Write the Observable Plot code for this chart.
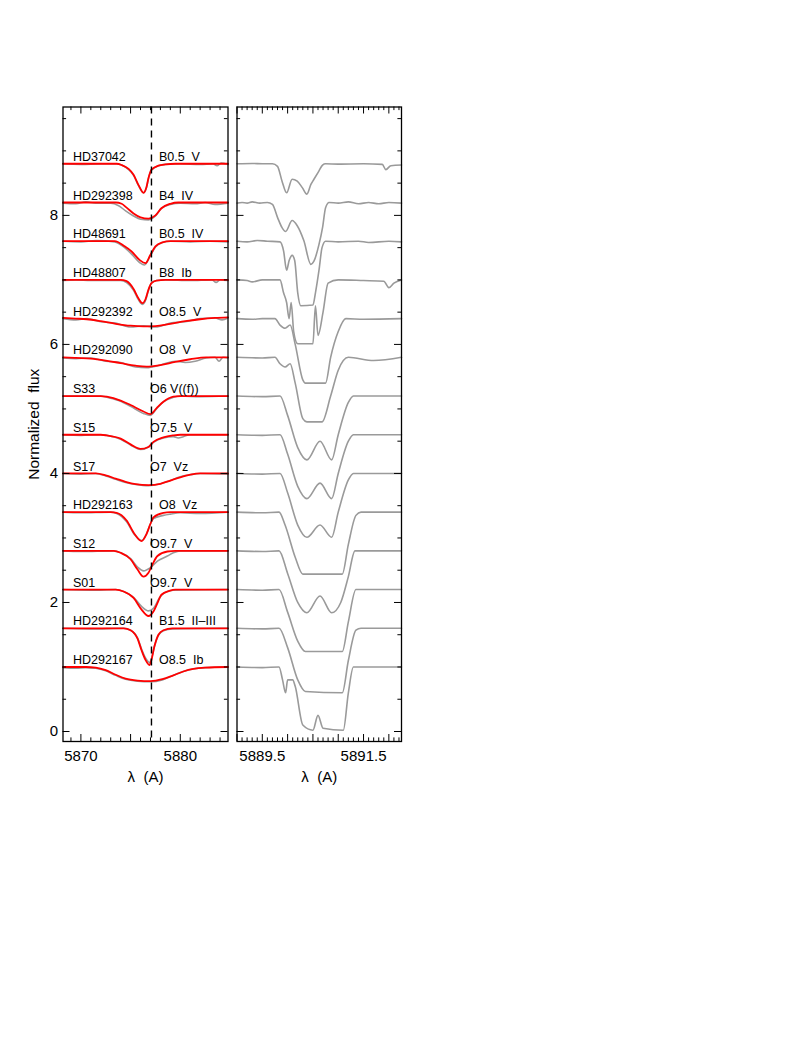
<!DOCTYPE html>
<html><head><meta charset="utf-8">
<script src="https://cdn.jsdelivr.net/npm/d3@7"></script>
<script src="https://cdn.jsdelivr.net/npm/@observablehq/plot@0.6"></script>
<style>
body{margin:0;background:#fff;}
#wrap{position:relative;width:786px;height:1063px;background:#fff;}
#wrap svg{position:absolute;top:0;overflow:visible;}
#wrap text{white-space:pre;}
</style></head><body><div id="wrap"></div>
<script>
// ---------------- data ----------------
const stars = ["HD37042","HD292398","HD48691","HD48807","HD292392","HD292090","S33","S15","S17","HD292163","S12","S01","HD292164","HD292167"];
const spTypes = ["B0.5  V","B4  IV","B0.5  IV","B8  Ib","O8.5  V","O8  V","O6 V((f))","O7.5  V","O7  Vz","O8  Vz","O9.7  V","O9.7  V","B1.5  II\u2013III","O8.5  Ib"];
const offsets = [8.8,8.2,7.6,7.0,6.4,5.8,5.2,4.6,4.0,3.4,2.8,2.2,1.6,1.0];
const yTickLabels = [0,2,4,6,8];
const leftTickLabels = [5870,5880];
const rightTickLabels = [5889.5,5891.5];
const restWavelength = 5877.1;

// He I 5876 region: model (red) depths below continuum, [wavelength, depth]
const leftModel = [
 [[5868.2,0],[5873.6,0],[5874.1,0.02],[5874.8,0.08],[5875.3,0.17],[5875.8,0.33],[5876.3,0.45],[5876.6,0.36],[5876.8,0.22],[5877.1,0.09],[5877.8,0.03],[5878.5,0.01],[5879.5,0],[5884.8,0]],
 [[5868.2,0],[5873.5,0],[5874.1,0.02],[5874.6,0.08],[5875.3,0.17],[5876.0,0.23],[5876.8,0.25],[5877.5,0.2],[5878.1,0.09],[5879.0,0.02],[5879.8,0],[5884.8,0]],
 [[5868.2,0],[5873.4,0],[5874.4,0.08],[5875.1,0.16],[5875.9,0.29],[5876.5,0.34],[5877.0,0.21],[5877.5,0.08],[5878.2,0.02],[5879,0],[5884.8,0]],
 [[5868.2,0],[5874.0,0],[5874.6,0.02],[5875.3,0.14],[5875.8,0.29],[5876.2,0.36],[5876.5,0.3],[5876.8,0.15],[5877.1,0.05],[5877.6,0.01],[5878.5,0],[5884.8,0]],
 [[5868.2,-0.01],[5869.5,0],[5870.6,0.01],[5872,0.04],[5873.5,0.08],[5875,0.11],[5876.3,0.12],[5877.5,0.115],[5879,0.08],[5880.5,0.04],[5882,0.01],[5883.5,-0.01],[5884.8,-0.02]],
 [[5868.2,0],[5869.5,0.01],[5871,0.02],[5872.5,0.05],[5874,0.09],[5875.5,0.13],[5876.6,0.145],[5878,0.12],[5879.5,0.07],[5881,0.03],[5882.6,0],[5884.8,0]],
 [[5868.2,0],[5872.0,0],[5872.6,0.01],[5874.0,0.07],[5875.0,0.14],[5876.3,0.24],[5877.0,0.28],[5877.6,0.19],[5878.3,0.09],[5879.3,0.01],[5880,0],[5884.8,0]],
 [[5868.2,0],[5872,0],[5872.6,0.01],[5874.0,0.06],[5875.0,0.15],[5876.0,0.22],[5876.8,0.19],[5877.3,0.11],[5878.3,0.04],[5879.3,0.01],[5880,0],[5884.8,0]],
 [[5868.2,0],[5871.5,0],[5872.5,0.03],[5873.5,0.08],[5874.5,0.13],[5875.5,0.165],[5876.8,0.18],[5878,0.16],[5879,0.11],[5880,0.06],[5881,0.02],[5882,0],[5884.8,0]],
 [[5868.2,0],[5873.0,0],[5873.6,0.01],[5874.6,0.13],[5875.4,0.34],[5876.1,0.45],[5876.6,0.34],[5877.0,0.18],[5877.3,0.08],[5878.3,0.01],[5879,0],[5884.8,0]],
 [[5868.2,0],[5873.3,0],[5874,0.03],[5875,0.13],[5875.7,0.29],[5876.3,0.4],[5876.8,0.34],[5877.2,0.21],[5877.7,0.08],[5878.7,0.01],[5879.5,0],[5884.8,0]],
 [[5868.2,0],[5873.5,0],[5874.3,0.03],[5875.3,0.13],[5876.1,0.31],[5876.8,0.41],[5877.3,0.34],[5877.7,0.21],[5878.1,0.08],[5878.9,0.02],[5879.5,0],[5884.8,0]],
 [[5868.2,0],[5874.3,0],[5875.0,0.03],[5875.7,0.16],[5876.1,0.34],[5876.5,0.49],[5876.9,0.57],[5877.1,0.49],[5877.4,0.28],[5877.8,0.10],[5878.3,0.03],[5879.2,0],[5884.8,0]],
 [[5868.2,0],[5870.5,0],[5871.5,0.01],[5872.5,0.05],[5873.5,0.12],[5874.5,0.18],[5875.7,0.21],[5877.0,0.22],[5878.2,0.19],[5879.3,0.13],[5880.3,0.07],[5881.3,0.03],[5882.5,0.01],[5884.8,0]]
];
// He I 5876 region: observed (grey) depths
const leftObs = [
 [[5868.2,0],[5870,0.01],[5872,0],[5873.6,0],[5874.1,0.02],[5874.8,0.09],[5875.3,0.18],[5875.8,0.34],[5876.3,0.45],[5876.6,0.37],[5876.8,0.23],[5877.1,0.1],[5877.8,0.03],[5878.5,0.01],[5880,0],[5882,0.01],[5883.3,0],[5883.7,0.03],[5884.1,-0.01],[5884.8,0.01]],
 [[5868.2,0.01],[5869.5,0.02],[5870.5,-0.01],[5871.5,0.01],[5873.0,0.01],[5873.8,0.05],[5874.5,0.13],[5875.3,0.21],[5876.0,0.26],[5876.8,0.27],[5877.5,0.21],[5878.1,0.09],[5879,0.03],[5880,0.01],[5881.5,0.02],[5882.5,0],[5883.5,0.03],[5884.8,0.01]],
 [[5868.2,0],[5870,0.01],[5871.5,-0.01],[5873.4,0.01],[5874.4,0.1],[5875.1,0.2],[5875.9,0.33],[5876.4,0.37],[5877.0,0.22],[5877.5,0.09],[5878.2,0.02],[5879,0],[5881,0.01],[5883,0],[5884.8,0.01]],
 [[5868.2,0.01],[5869.5,0],[5871,0.01],[5874.0,0.01],[5874.6,0.04],[5875.3,0.16],[5875.8,0.31],[5876.2,0.38],[5876.5,0.32],[5876.8,0.16],[5877.1,0.05],[5877.6,0.01],[5878.5,0],[5881,0.01],[5883.2,0],[5883.6,0.04],[5884,0],[5884.8,0.01]],
 [[5868.2,0],[5869.5,0.02],[5870.6,0],[5872,0.05],[5873.5,0.07],[5875,0.13],[5876.3,0.11],[5877.5,0.13],[5879,0.07],[5880.5,0.05],[5882,0],[5883.5,-0.01],[5884.2,0.02],[5884.8,-0.01]],
 [[5868.2,0.01],[5869.5,0.02],[5871,0.01],[5872.5,0.06],[5874,0.08],[5875.5,0.15],[5876.6,0.16],[5878,0.12],[5879.5,0.06],[5880.5,0.08],[5881.5,0.06],[5882.6,0.01],[5883.5,0],[5883.9,0.06],[5884.3,0],[5884.8,0.01]],
 [[5868.2,0],[5872.0,0],[5872.6,0.02],[5874.0,0.08],[5875.0,0.16],[5876.3,0.27],[5877.0,0.3],[5877.6,0.2],[5878.3,0.09],[5879.3,0.02],[5880,0],[5882,0.01],[5884.8,0]],
 [[5868.2,0],[5870,0.01],[5872,0],[5872.6,0.01],[5874.0,0.07],[5875.0,0.16],[5876.0,0.23],[5876.8,0.19],[5877.3,0.12],[5878.3,0.05],[5879.3,0.03],[5879.8,0.05],[5880.3,0.03],[5881,0],[5884.8,0]],
 [[5868.2,0],[5870,0.01],[5871.5,0],[5872.5,0.04],[5873.5,0.09],[5874.5,0.14],[5875.5,0.17],[5876.8,0.19],[5878,0.16],[5879,0.11],[5880,0.05],[5881,0.02],[5882,0],[5884.8,0.01]],
 [[5868.2,0],[5870,0.01],[5873.0,0],[5873.6,0.02],[5874.6,0.15],[5875.4,0.35],[5876.1,0.44],[5876.6,0.34],[5877.0,0.18],[5877.3,0.1],[5878.3,0.05],[5879,0.03],[5880,0.01],[5882,0.02],[5884.8,0]],
 [[5868.2,0],[5870,0.01],[5873.3,0],[5874,0.03],[5875,0.12],[5875.7,0.25],[5876.3,0.31],[5877,0.26],[5877.7,0.16],[5878.7,0.08],[5879.3,0.03],[5880,0],[5884.8,0]],
 [[5868.2,0],[5871,0.01],[5873.5,0],[5874.3,0.03],[5875.3,0.12],[5876.1,0.26],[5876.8,0.33],[5877.3,0.29],[5877.9,0.13],[5878.5,0.04],[5879.3,0.01],[5884.8,0]],
 [[5868.2,0],[5871,0.01],[5874.3,0],[5875.0,0.03],[5875.7,0.15],[5876.1,0.32],[5876.5,0.46],[5876.9,0.53],[5877.1,0.47],[5877.4,0.28],[5877.8,0.11],[5878.3,0.04],[5879.2,0.01],[5884.8,0]],
 [[5868.2,0.01],[5869.5,0.02],[5870.5,0.01],[5871.5,0.02],[5872.5,0.06],[5873.5,0.13],[5874.5,0.19],[5875.7,0.22],[5877.0,0.23],[5878.2,0.2],[5879.3,0.13],[5880.3,0.07],[5881.3,0.03],[5882.5,0.01],[5884.8,0]]
];
// Na D2 region: observed (grey) depths
const rightObs = [
 [[5889.0,0],[5889.3,-0.005],[5889.5,0],[5889.7,0],[5889.8,0.04],[5889.89,0.27],[5889.98,0.45],[5890.09,0.24],[5890.19,0.27],[5890.29,0.37],[5890.38,0.47],[5890.46,0.32],[5890.52,0.24],[5890.62,0.11],[5890.69,0.02],[5890.75,0],[5891.0,0.005],[5891.5,0],[5891.87,0.01],[5891.94,0.09],[5892.04,0.03],[5892.25,0.02]],
 [[5889.0,0.01],[5889.1,0],[5889.2,0.01],[5889.3,-0.01],[5889.45,0.01],[5889.6,0],[5889.7,0.03],[5889.8,0.23],[5889.89,0.39],[5889.96,0.45],[5890.09,0.28],[5890.19,0.36],[5890.32,0.59],[5890.46,0.96],[5890.52,0.91],[5890.62,0.65],[5890.69,0.39],[5890.75,0.08],[5890.82,0],[5891.0,0.01],[5891.2,-0.01],[5891.4,0.02],[5891.6,0],[5891.8,0.02],[5892.0,0],[5892.25,0.01]],
 [[5889.0,0],[5889.2,0.01],[5889.4,-0.01],[5889.6,0],[5889.85,0.01],[5889.92,0.15],[5889.98,0.45],[5890.03,0.3],[5890.09,0.22],[5890.14,0.3],[5890.2,0.8],[5890.26,1.0],[5890.5,0.99],[5890.55,0.8],[5890.62,0.45],[5890.68,0.1],[5890.75,0],[5891.0,0.01],[5891.4,0],[5891.6,0.02],[5892.0,0],[5892.25,0.01]],
 [[5889.0,0],[5889.2,0.01],[5889.3,0.03],[5889.5,0],[5889.85,0],[5889.92,0.2],[5889.98,0.35],[5890.03,0.6],[5890.07,0.35],[5890.12,0.8],[5890.2,0.99],[5890.5,0.99],[5890.55,0.4],[5890.6,0.86],[5890.7,0.5],[5890.8,0.05],[5891.0,0],[5891.5,0.01],[5891.9,0.02],[5892.0,0.12],[5892.1,0.05],[5892.25,0]],
 [[5889.0,0],[5889.3,0.01],[5889.5,0],[5889.75,0],[5889.85,0.1],[5889.95,0.15],[5890.05,0.1],[5890.15,0.4],[5890.3,0.95],[5890.35,1.0],[5890.75,1.0],[5890.85,0.6],[5891.0,0.2],[5891.15,0],[5891.5,0.01],[5892.25,0]],
 [[5889.0,0],[5889.5,0.01],[5889.75,0],[5889.85,0.1],[5889.95,0.15],[5890.05,0.1],[5890.15,0.4],[5890.3,0.95],[5890.38,1.0],[5890.68,1.0],[5890.85,0.6],[5891.0,0.2],[5891.2,0],[5891.7,0.05],[5892.25,0]],
 [[5889.0,0],[5889.5,0.01],[5889.85,0],[5890.0,0.3],[5890.2,0.8],[5890.38,0.99],[5890.64,0.7],[5890.87,0.99],[5891.0,0.6],[5891.2,0.1],[5891.3,0],[5892.25,0]],
 [[5889.0,0],[5889.5,0.01],[5889.85,0],[5890.0,0.3],[5890.2,0.8],[5890.38,0.99],[5890.64,0.75],[5890.87,0.99],[5891.0,0.6],[5891.2,0.1],[5891.3,0],[5892.25,0]],
 [[5889.0,0],[5889.5,0.01],[5889.85,0],[5890.0,0.3],[5890.2,0.8],[5890.38,0.99],[5890.64,0.8],[5890.87,0.99],[5891.0,0.6],[5891.2,0.1],[5891.3,0],[5892.25,0]],
 [[5889.0,0],[5889.5,0.01],[5889.83,0],[5889.95,0.2],[5890.15,0.7],[5890.3,0.96],[5891.08,0.96],[5891.2,0.5],[5891.35,0.05],[5891.45,0],[5892.25,0]],
 [[5889.0,0],[5889.5,0.01],[5889.83,0],[5890.0,0.35],[5890.2,0.8],[5890.38,0.96],[5890.64,0.7],[5890.87,0.96],[5891.05,0.8],[5891.2,0.4],[5891.33,0],[5892.25,0]],
 [[5889.0,0],[5889.5,0.01],[5889.83,0],[5890.0,0.35],[5890.2,0.8],[5890.35,0.96],[5891.08,0.96],[5891.2,0.5],[5891.35,0],[5892.25,0]],
 [[5889.0,0],[5889.5,0.01],[5889.83,0],[5890.0,0.3],[5890.2,0.8],[5890.35,0.98],[5891.08,1.0],[5891.2,0.5],[5891.35,0.03],[5891.45,0],[5892.25,0]],
 [[5889.0,0],[5889.5,0.01],[5889.83,0],[5889.9,0.2],[5889.96,0.4],[5890.0,0.2],[5890.1,0.2],[5890.15,0.3],[5890.3,0.9],[5890.5,0.98],[5890.6,0.75],[5890.7,0.95],[5891.1,0.98],[5891.2,0.4],[5891.3,0],[5892.25,0]]
];

// ---------------- layout ----------------
const yDomain = [-0.155, 9.68];
const frameTop = 106.5, frameBottom = 741;
const pxPerY = (frameBottom - frameTop) / (yDomain[1] - yDomain[0]);
const FONT = "'Liberation Sans', Arial, Helvetica, sans-serif";

function records(profiles) {
  const out = [];
  profiles.forEach((p, i) => p.forEach(([w, d]) => out.push({star: stars[i], wl: w, flux: offsets[i] - d})));
  return out;
}

function tickMarks(xDomain, pxPerX, xMaj, xMin) {
  const maj = 7, min = 3.6;
  const yMaj = d3.range(0, 9.01, 2), yMin = d3.range(0, 9.6, 0.5).filter(v => v % 2 !== 0);
  const s = {stroke: "#000", strokeWidth: 1};
  const m = [];
  for (const [arr, L] of [[xMaj, maj], [xMin, min]]) {
    m.push(Plot.ruleX(arr, {x: d => d, y1: yDomain[0], y2: yDomain[0] + L / pxPerY, ...s}));
    m.push(Plot.ruleX(arr, {x: d => d, y1: yDomain[1], y2: yDomain[1] - L / pxPerY, ...s}));
  }
  for (const [arr, L] of [[yMaj, maj], [yMin, min]]) {
    m.push(Plot.ruleY(arr, {y: d => d, x1: xDomain[0], x2: xDomain[0] + L / pxPerX, ...s}));
    m.push(Plot.ruleY(arr, {y: d => d, x1: xDomain[1], x2: xDomain[1] - L / pxPerX, ...s}));
  }
  return m;
}

// ---- left panel ----
const lx = [5868.2, 5884.8];
const lW = 240, lML = 62.5, lMR = 12.5;
const lPx = (lW - lML - lMR) / (lx[1] - lx[0]);
const left = Plot.plot({
  width: lW, height: 800,
  marginLeft: lML, marginRight: lMR, marginTop: frameTop, marginBottom: 800 - frameBottom,
  x: {domain: lx}, y: {domain: yDomain},
  style: {fontFamily: FONT, background: "transparent", overflow: "visible"},
  marks: [
    Plot.line(records(leftObs), {x: "wl", y: "flux", z: "star", stroke: "#9a9a9a", strokeWidth: 1.6, curve: "monotone-x"}),
    Plot.line(records(leftModel), {x: "wl", y: "flux", z: "star", stroke: "#ff0000", strokeWidth: 1.8, curve: "monotone-x"}),
    Plot.ruleX([restWavelength], {stroke: "#000", strokeWidth: 1.4, strokeDasharray: "7,5"}),
    Plot.text(stars, {x: lx[0] + 1.0, y: (d, i) => offsets[i] + 0.045, text: d => d, textAnchor: "start", lineAnchor: "bottom", fontSize: 12.5, fill: "#000"}),
    Plot.text(spTypes, {x: (d, i) => stars[i].startsWith("S") ? 5876.95 : 5877.85, y: (d, i) => offsets[i] + 0.045, text: d => d, textAnchor: "start", lineAnchor: "bottom", fontSize: 12.5, fill: "#000"}),
    ...tickMarks(lx, lPx, [5870, 5875, 5880], d3.range(5869, 5885, 1).filter(v => v % 5 !== 0)),
    Plot.frame({stroke: "#000", strokeWidth: 1.3}),
    Plot.axisY(yTickLabels, {tickSize: 0, tickPadding: 5, fontSize: 15, fill: "#000", label: null, tickFormat: d => String(d)}),
    Plot.axisX(leftTickLabels, {tickSize: 0, tickPadding: 9, fontSize: 15, fill: "#000", label: null, tickFormat: d => String(d)}),
    Plot.text(["\u03bb  (A)"], {frameAnchor: "bottom", lineAnchor: "middle", textAnchor: "middle", dy: 36, fontSize: 15, fill: "#000"}),
    Plot.text(["Normalized  flux"], {frameAnchor: "left", lineAnchor: "middle", textAnchor: "middle", rotate: -90, dx: -29, fontSize: 15.5, fill: "#000"})
  ]
});
left.style.left = "0px";

// ---- right panel ----
const rx = [5889.0, 5892.25];
const rW = 190, rML = 10.5, rMR = 15;
const rPx = (rW - rML - rMR) / (rx[1] - rx[0]);
const right = Plot.plot({
  width: rW, height: 800,
  marginLeft: rML, marginRight: rMR, marginTop: frameTop, marginBottom: 800 - frameBottom,
  x: {domain: rx}, y: {domain: yDomain, axis: null},
  style: {fontFamily: FONT, background: "transparent", overflow: "visible"},
  marks: [
    Plot.line(records(rightObs), {x: "wl", y: "flux", z: "star", stroke: "#9a9a9a", strokeWidth: 1.6, curve: "monotone-x"}),
    ...tickMarks(rx, rPx, d3.range(5889.0, 5892.26, 0.5), d3.range(5889.1, 5892.25, 0.1).filter(v => Math.abs(v * 2 - Math.round(v * 2)) > 0.05)),
    Plot.frame({stroke: "#000", strokeWidth: 1.3}),
    Plot.axisX(rightTickLabels, {tickSize: 0, tickPadding: 9, fontSize: 15, fill: "#000", label: null, tickFormat: d => d.toFixed(1)}),
    Plot.text(["\u03bb  (A)"], {frameAnchor: "bottom", lineAnchor: "middle", textAnchor: "middle", dy: 36, fontSize: 15, fill: "#000"})
  ]
});
right.style.left = "226px";

const wrap = document.getElementById("wrap");
wrap.appendChild(left);
wrap.appendChild(right);
</script></body></html>
